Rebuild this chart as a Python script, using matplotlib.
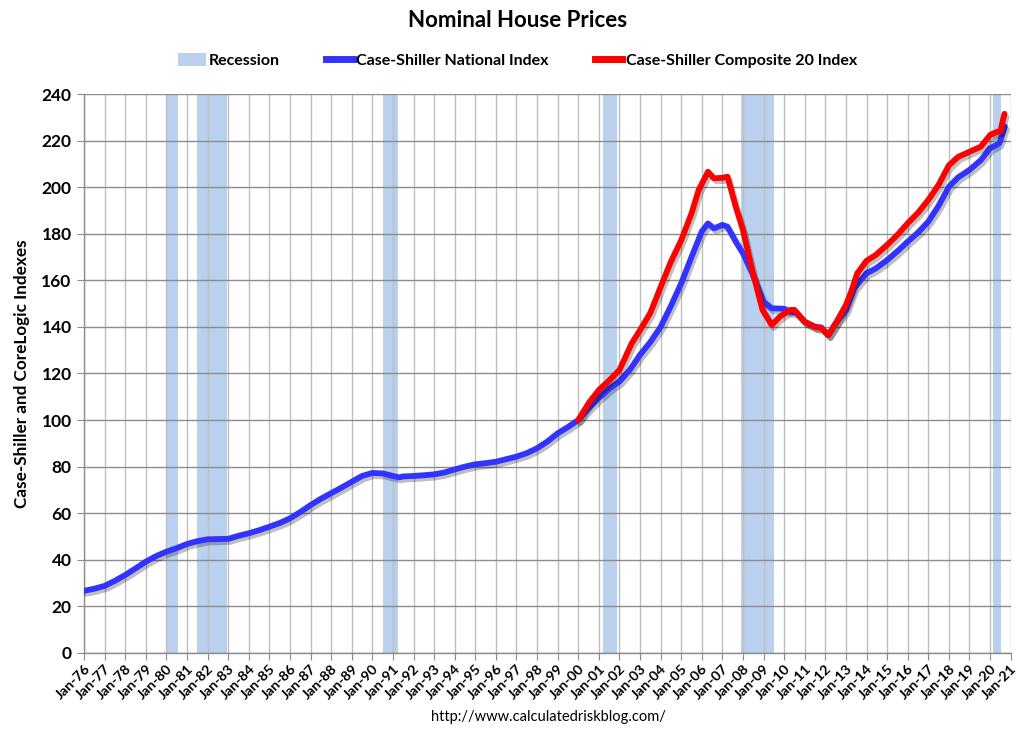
import matplotlib
matplotlib.use("Agg")
import matplotlib.pyplot as plt
import matplotlib.patheffects as pe
from matplotlib.patches import Patch
from matplotlib.lines import Line2D

# ---- data (decimal years) ----
nat_x = [1976.0, 1976.5, 1977.0, 1977.5, 1978.0, 1978.5, 1979.0, 1979.5, 1980.0, 1980.5,
         1981.0, 1981.5, 1982.0, 1982.5, 1983.0, 1983.5, 1984.0, 1984.5, 1985.0, 1985.5,
         1986.0, 1986.5, 1987.0, 1987.5, 1988.0, 1988.5, 1989.0, 1989.5, 1990.0, 1990.5,
         1991.0, 1991.3, 1991.5, 1992.0, 1992.5, 1993.0, 1993.5, 1994.0, 1994.5, 1995.0,
         1995.5, 1996.0, 1996.5, 1997.0, 1997.5, 1998.0, 1998.5, 1999.0, 1999.5, 2000.0,
         2000.5, 2001.0, 2001.5, 2002.0, 2002.5, 2003.0, 2003.5, 2004.0, 2004.5, 2005.0,
         2005.5, 2006.0, 2006.3, 2006.6, 2007.0, 2007.25, 2007.65, 2008.0, 2008.45, 2009.0,
         2009.4, 2010.0, 2010.3, 2010.6, 2011.0, 2011.5, 2011.8, 2012.15, 2012.5, 2013.0,
         2013.4, 2014.0, 2014.45, 2015.0, 2015.5, 2016.0, 2016.5, 2017.0, 2017.5, 2018.0,
         2018.45, 2019.0, 2019.55, 2020.0, 2020.45, 2020.72]
nat_y = [26.7, 27.6, 28.8, 31.0, 33.5, 36.3, 39.2, 41.6, 43.5, 45.0,
         46.8, 48.0, 48.8, 48.9, 49.0, 50.3, 51.4, 52.7, 54.2, 55.8,
         57.8, 60.5, 63.5, 66.2, 68.6, 71.0, 73.5, 76.0, 77.3, 77.1,
         76.0, 75.4, 75.8, 76.0, 76.3, 76.7, 77.5, 78.8, 80.0, 81.0,
         81.5, 82.1, 83.2, 84.3, 85.8, 87.9, 90.8, 94.3, 97.0, 100.0,
         105.0, 109.5, 113.5, 116.5, 121.5, 128.0, 133.5, 140.0, 149.0, 158.7,
         170.0, 181.0, 184.4, 182.3, 183.8, 183.0, 176.6, 171.6, 163.0, 150.8,
         148.0, 147.8, 146.5, 146.0, 142.2, 140.0, 139.8, 136.5, 141.5, 147.2,
         156.6, 163.0, 165.1, 168.7, 172.5, 176.6, 180.5, 185.2, 192.0, 200.2,
         204.2, 207.4, 211.6, 216.7, 218.8, 226.0]

c20_x = [2000.0, 2000.5, 2001.0, 2001.5, 2002.0, 2002.6, 2003.0, 2003.5, 2004.0, 2004.5,
         2005.0, 2005.5, 2005.85, 2006.3, 2006.6, 2007.0, 2007.25, 2007.65, 2008.0, 2008.45,
         2008.95, 2009.4, 2009.8, 2010.3, 2010.5, 2011.0, 2011.5, 2011.8, 2012.15, 2012.5,
         2013.0, 2013.25, 2013.55, 2014.0, 2014.45, 2015.0, 2015.5, 2016.0, 2016.5, 2017.0,
         2017.5, 2018.0, 2018.45, 2019.0, 2019.55, 2020.0, 2020.35, 2020.5, 2020.7]
c20_y = [100.0, 107.2, 112.9, 117.0, 121.5, 133.0, 138.6, 146.0, 157.1, 168.0,
         177.2, 188.7, 198.8, 206.6, 203.8, 204.0, 204.5, 191.6, 181.6, 164.4,
         147.3, 140.8, 144.5, 147.3, 147.3, 142.2, 140.0, 139.5, 136.5, 141.5,
         149.4, 155.0, 163.0, 168.4, 170.9, 175.2, 179.5, 184.5, 189.0, 194.5,
         201.0, 209.4, 213.0, 215.2, 217.4, 222.4, 223.8, 224.0, 231.5]

recess_start = [1980.0, 1981.5, 1990.5, 2001.2, 2007.92, 2020.15]
recess_end = [1980.58, 1982.92, 1991.25, 2001.9, 2009.5, 2020.55]

years = list(range(1976, 2022))
tick_labels = ["Jan-%02d" % (y % 100) for y in years]

# ---- style ----
FONT = "Lato"
band_color = "#B9D0EE"
blue = "#3333FF"
red = "#FF0000"

fig = plt.figure(figsize=(10.25, 7.35), dpi=100)
ax = fig.add_axes([0.082, 0.1116, 0.904, 0.7605])

for s, e in zip(recess_start, recess_end):
    ax.axvspan(s, e, color=band_color, zorder=0.3, lw=0)

shadow = [pe.SimpleLineShadow(offset=(1.5, -2.2), shadow_color="black", alpha=0.25),
          pe.Normal()]
ax.plot(nat_x, nat_y, color=blue, lw=4.2, solid_capstyle="round",
        solid_joinstyle="round", path_effects=shadow, zorder=3)
ax.plot(c20_x, c20_y, color=red, lw=4.2, solid_capstyle="round",
        solid_joinstyle="round", path_effects=shadow, zorder=4)

ax.set_xlim(1976, 2021)
ax.set_ylim(0, 240)
ax.set_yticks(range(0, 241, 20))
ax.set_xticks(years)
ax.set_xticklabels(tick_labels, rotation=45, ha="right", rotation_mode="anchor",
                   fontsize=10.3, fontweight="bold", family=FONT)
for lab in ax.get_yticklabels():
    lab.set_fontsize(12.5)
    lab.set_fontweight("bold")
    lab.set_family(FONT)

ax.set_axisbelow(True)
ax.yaxis.grid(True, color="#8C8C8C", lw=1.0, zorder=0.5)
ax.xaxis.grid(True, color="#BEBEBE", lw=1.0, zorder=0.5)
for sp in ["top", "right"]:
    ax.spines[sp].set_visible(False)
for sp in ["left", "bottom"]:
    ax.spines[sp].set_color("#8C8C8C")
    ax.spines[sp].set_linewidth(1.0)
ax.tick_params(axis="x", length=5, color="#8C8C8C", pad=2)
ax.tick_params(axis="y", length=5, color="#8C8C8C", pad=4)

ax.set_ylabel("Case-Shiller and CoreLogic Indexes", fontsize=12.3,
              fontweight="bold", family=FONT, labelpad=8)

fig.text(0.505, 0.972, "Nominal House Prices", ha="center", va="center",
         fontsize=16, fontweight="bold", family=FONT)

handles = [Patch(facecolor=band_color, edgecolor="none"),
           Line2D([0], [0], color=blue, lw=5),
           Line2D([0], [0], color=red, lw=5)]
labels = ["Recession", "Case-Shiller National Index", "Case-Shiller Composite 20 Index"]
fig.legend(handles, labels, loc="center", bbox_to_anchor=(0.505, 0.918), ncol=3,
           frameon=False, prop={"family": FONT, "weight": "bold", "size": 11.5},
           handlelength=1.7, handletextpad=0.2, columnspacing=2.9, handleheight=0.9)

fig.text(0.535, 0.024, "http://www.calculatedriskblog.com/", ha="center", va="center",
         fontsize=10.5, family=FONT)

fig.savefig("out.png", dpi=100)
